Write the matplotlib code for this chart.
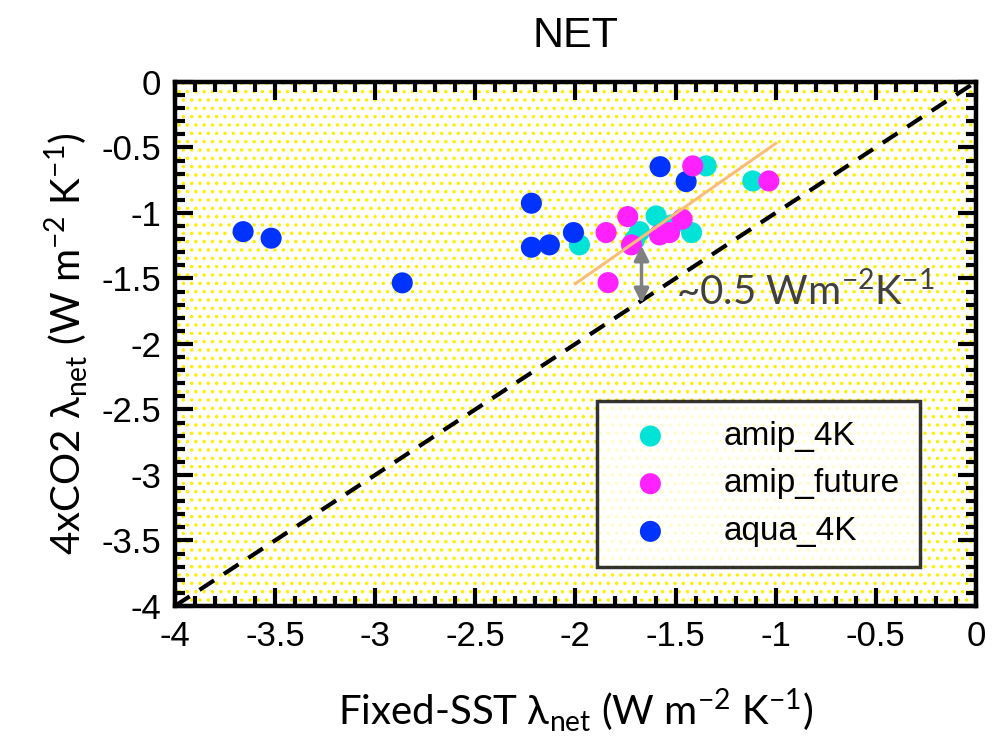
import matplotlib
matplotlib.use("Agg")
import matplotlib.pyplot as plt
from matplotlib.patches import Rectangle
import numpy as np

# feedback parameters (W m-2 K-1)
amip4k_x = [-1.98, -1.705, -1.68, -1.597, -1.515, -1.42, -1.347, -1.114]
amip4k_y = [-1.244, -1.206, -1.143, -1.023, -1.09, -1.150, -0.641, -0.756]

future_x = [-1.847, -1.739, -1.72, -1.58, -1.53, -1.467, -1.414, -1.034, -1.837]
future_y = [-1.150, -1.028, -1.244, -1.168, -1.150, -1.048, -0.641, -0.756, -1.532]

aqua_x = [-3.66, -3.52, -2.865, -2.22, -2.22, -2.13, -2.01, -1.577, -1.447]
aqua_y = [-1.143, -1.193, -1.534, -0.926, -1.262, -1.244, -1.150, -0.647, -0.761]

# fit through the amip runs
fit_slope = 1.07
fit_icpt = 0.60
fit_range = [-2.0, -1.0]

gap_x = -1.67
gap_y = [-1.25, -1.69]

ticks = [-4, -3.5, -3, -2.5, -2, -1.5, -1, -0.5, 0]
tick_labels = ['-4', '-3.5', '-3', '-2.5', '-2', '-1.5', '-1', '-0.5', '0']

c_amip = '#00E3D6'
c_future = '#FF22FF'
c_aqua = '#0033FF'

plt.rcParams['hatch.linewidth'] = 1.25

fig = plt.figure(figsize=(10.06, 7.38), dpi=100)
ax = fig.add_axes([0.174, 0.179, 0.796, 0.710])

# dotted yellow backdrop
ax.add_patch(Rectangle((0, 0), 1, 1, transform=ax.transAxes, facecolor='white',
                       edgecolor='#FFEE00', lw=0, hatch='..', zorder=0))

ax.plot([-4, 0], [-4, 0], color='black', lw=3, dashes=(4.2, 2.8), zorder=2)

ms = 230
ax.scatter(amip4k_x, amip4k_y, s=ms, color=c_amip, edgecolors='none', zorder=3, label='amip_4K')
ax.scatter(future_x, future_y, s=ms, color=c_future, edgecolors='none', zorder=4, label='amip_future')
ax.scatter(aqua_x, aqua_y, s=ms, color=c_aqua, edgecolors='none', zorder=3, label='aqua_4K')

fx = np.array(fit_range)
ax.plot(fx, fit_slope * fx + fit_icpt, color='#F9BD7A', lw=2.2, zorder=5)

ax.annotate('', xy=(gap_x, gap_y[1]), xytext=(gap_x, gap_y[0]),
            arrowprops=dict(arrowstyle='<|-|>', color='#808080', lw=2.5,
                            mutation_scale=22, shrinkA=0, shrinkB=0), zorder=6)
ax.text(-1.5, -1.6, r'~0.5 Wm$^{\mathregular{-2}}$K$^{\mathregular{-1}}$',
        family='Lato', fontsize=29, color='#404040',
        va='center', ha='left', zorder=6)

ax.set_xlim(-4, 0)
ax.set_ylim(-4, 0)
ax.set_xticks(ticks)
ax.set_xticklabels(tick_labels)
ax.set_yticks(ticks)
ax.set_yticklabels(tick_labels)
ax.set_xticks(np.arange(-40, 1) / 10, minor=True)
ax.set_yticks(np.arange(-40, 1) / 10, minor=True)
ax.tick_params(which='both', direction='in', top=True, right=True, width=3,
               color='black')
ax.tick_params(which='major', length=13, labelsize=25, pad=10)
ax.tick_params(which='minor', length=7)
for lab in ax.get_xticklabels() + ax.get_yticklabels():
    lab.set_family('Liberation Sans')
for sp in ax.spines.values():
    sp.set_linewidth(3.2)

leg = ax.legend(loc='lower left', bbox_to_anchor=(0.527, 0.074, 0.403, 0.323),
                mode='expand', prop={'family': 'Liberation Sans', 'size': 24},
                frameon=True, fancybox=False, edgecolor='black',
                handletextpad=1.2, handlelength=2.0, labelspacing=0.5,
                borderpad=0.6, borderaxespad=0, markerscale=1.0)
leg.get_frame().set_linewidth(2.5)
leg.set_zorder(10)

ax.set_title('NET', family='Liberation Sans', fontsize=31, pad=25)
ax.set_xlabel('Fixed-SST λ$_{\\mathregular{net}}$ (W m$^{\\mathregular{-2}}$ K$^{\\mathregular{-1}}$)',
              family='Lato', fontsize=29, labelpad=24)
ax.set_ylabel('4xCO2 λ$_{\\mathregular{net}}$ (W m$^{\\mathregular{-2}}$ K$^{\\mathregular{-1}}$)',
              family='Lato', fontsize=29, labelpad=8)

fig.savefig('out.png', dpi=100)
